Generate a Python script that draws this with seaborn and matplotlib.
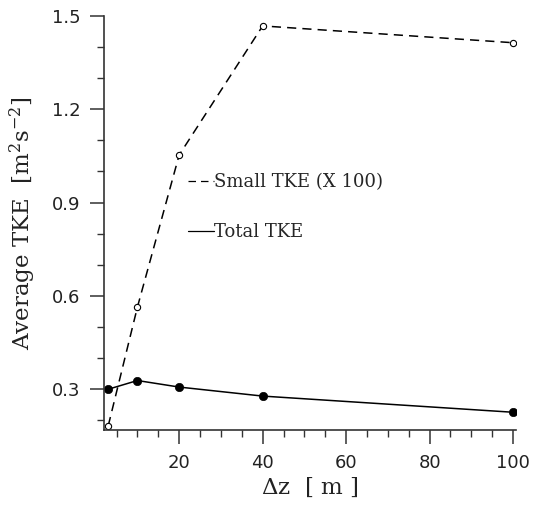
import matplotlib
matplotlib.use("Agg")
import matplotlib.pyplot as plt
import seaborn as sns
import pandas as pd
from matplotlib.ticker import MultipleLocator

# Grid spacing and averaged turbulent kinetic energy
dz = [3, 10, 20, 40, 100]
small_tke_x100 = [0.182, 0.564, 1.053, 1.468, 1.414]
total_tke = [0.300, 0.328, 0.307, 0.278, 0.226]

small_df = pd.DataFrame({"dz": dz, "tke": small_tke_x100})
total_df = pd.DataFrame({"dz": dz, "tke": total_tke})

sns.set_theme(style="ticks")
plt.rcParams["font.family"] = ["DejaVu Sans"]
plt.rcParams["mathtext.fontset"] = "dejavuserif"

fig = plt.figure(figsize=(5.34, 5.07), dpi=100)
ax = fig.add_axes([0.1948, 0.1519, 0.7715, 0.8166])

sns.lineplot(data=small_df, x="dz", y="tke", ax=ax, color="black",
             linewidth=1.1, dashes=False, marker="o", markersize=4.5,
             markerfacecolor="white", markeredgecolor="black",
             markeredgewidth=0.8, label="Small TKE (X 100)")
ax.lines[-1].set_dashes([6, 4])
sns.lineplot(data=total_df, x="dz", y="tke", ax=ax, color="black",
             linewidth=1.1, marker="o", markersize=6,
             markerfacecolor="black", markeredgecolor="black",
             markeredgewidth=0.5, label="Total TKE")

ax.set_xlim(2.0, 100.7)
ax.set_ylim(0.169, 1.5)
ax.xaxis.set_major_locator(MultipleLocator(20))
ax.xaxis.set_minor_locator(MultipleLocator(5))
ax.yaxis.set_major_locator(MultipleLocator(0.3))
ax.yaxis.set_minor_locator(MultipleLocator(0.1))
ax.yaxis.set_major_formatter(plt.FuncFormatter(lambda v, p: f"{v:.1f}"))

for s in ("top", "right"):
    ax.spines[s].set_visible(False)
for s in ("left", "bottom"):
    ax.spines[s].set_color("#333333")
    ax.spines[s].set_linewidth(1.2)

ax.tick_params(axis="both", which="major", direction="out", length=10,
               width=1.1, color="#333333", labelsize=13, pad=7,
               labelcolor="#222222")
ax.tick_params(axis="both", which="minor", direction="out", length=5,
               width=1.0, color="#333333")

ax.set_xlabel(r"$\Delta$z  [ m ]", family="DejaVu Serif", fontsize=16.5,
              color="#222222", labelpad=3)
ax.set_ylabel(r"Average TKE  [m$^2$s$^{-2}$]", family="DejaVu Serif",
              fontsize=16.5, color="#222222", labelpad=10)

leg = ax.legend(loc="upper left", bbox_to_anchor=(0.322, 0.69),
                bbox_transform=fig.transFigure, frameon=False,
                handlelength=1.45, handletextpad=0.0, labelspacing=1.75,
                prop={"family": "DejaVu Serif", "size": 13})
for h in leg.legend_handles:
    h.set_marker("")
    h.set_linewidth(0.9)

fig.savefig("out.png", dpi=100)
